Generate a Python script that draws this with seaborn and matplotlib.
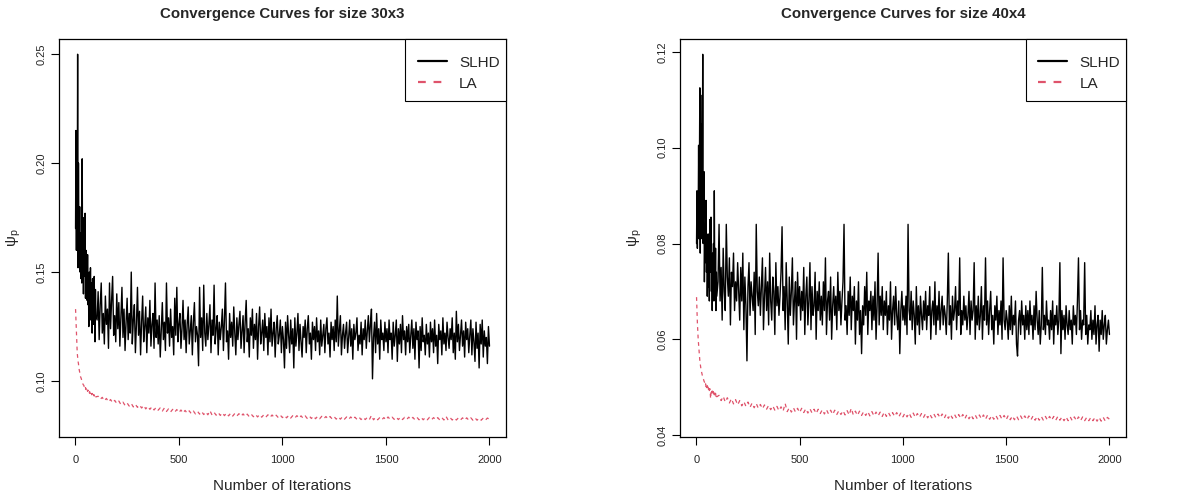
import numpy as np
import pandas as pd
import matplotlib
matplotlib.use('Agg')
import matplotlib.pyplot as plt
from matplotlib.patches import Rectangle
import seaborn as sns

slhd_iter = np.concatenate([np.arange(1, 100, 2), np.arange(105, 2001, 5)])
la_iter = np.concatenate([np.arange(1, 100, 2), np.arange(110, 2001, 10)])

# size 30x3
slhd_30x3 = [
    0.170, 0.215, 0.160, 0.210, 0.165, 0.250, 0.152, 0.200, 0.168, 0.155,
    0.180, 0.150, 0.168, 0.147, 0.158, 0.145, 0.202, 0.150, 0.175, 0.140,
    0.165, 0.155, 0.148, 0.177, 0.138, 0.160, 0.142, 0.150, 0.137, 0.158,
    0.135, 0.148, 0.125, 0.150, 0.140, 0.132, 0.152, 0.128, 0.145, 0.135,
    0.122, 0.147, 0.130, 0.140, 0.126, 0.148, 0.133, 0.118, 0.142, 0.130,
    .128, .141, .119, .135, .145, .122, .131, .117, .139, .126, .133, .115, .145, .124, .137, .148, .121, .130, .118, .140,
    .124, .136, .116, .129, .143, .120, .133, .114, .127, .138, .119, .131, .122, .150, .117, .128, .135, .113, .126, .143,
    .121, .132, .112, .127, .139, .118, .125, .134, .113, .129, .122, .137, .116, .126, .131, .115, .145, .120, .128, .117,
    .130, .111, .124, .136, .119, .127, .114, .145, .122, .129, .116, .133, .120, .125, .112, .138, .121, .143, .118, .126,
    .131, .115, .124, .137, .119, .128, .113, .126, .134, .117, .123, .130, .112, .127, .136, .118, .125, .121, .107, .143,
    .120, .129, .114, .144, .122, .116, .131, .119, .126, .135, .113, .128, .121, .144, .117, .124, .130, .112, .127, .119,
    .125, .133, .114, .128, .145, .118, .123, .110, .131, .120, .127, .116, .134, .122, .112, .129, .119, .126, .132, .115,
    .123, .130, .113, .127, .137, .118, .124, .111, .129, .121, .133, .115, .126, .119, .131, .110, .125, .134, .117, .122,
    .128, .114, .131, .120, .125, .112, .129, .118, .133, .116, .122, .127, .111, .124, .130, .117, .121, .128, .113, .125,
    .119, .106, .127, .115, .130, .121, .113, .128, .117, .124, .106, .129, .116, .122, .131, .114, .126, .118, .111, .125,
    .120, .128, .113, .124, .130, .117, .122, .110, .127, .119, .125, .114, .129, .118, .123, .112, .128, .116, .121, .126,
    .113, .124, .129, .117, .122, .111, .127, .119, .125, .114, .128, .118, .139, .116, .123, .130, .112, .121, .126, .115,
    .122, .127, .113, .120, .128, .116, .124, .110, .126, .119, .122, .129, .114, .121, .117, .127, .112, .124, .119, .128,
    .115, .123, .130, .118, .126, .133, .101, .120, .127, .113, .131, .117, .124, .110, .128, .119, .122, .114, .127, .118,
    .124, .113, .128, .119, .122, .110, .127, .116, .121, .128, .109, .124, .117, .126, .113, .130, .119, .123, .112, .125,
    .118, .126, .113, .121, .128, .115, .124, .110, .127, .119, .123, .106, .125, .114, .129, .118, .121, .112, .126, .117,
    .122, .111, .127, .118, .124, .113, .128, .116, .121, .108, .126, .119, .123, .112, .129, .117, .122, .114, .127, .120,
    .115, .124, .119, .129, .113, .122, .110, .132, .118, .126, .114, .121, .128, .116, .123, .111, .127, .119, .124, .113,
    .121, .128, .112, .124, .118, .109, .127, .115, .122, .106, .126, .117, .128, .111, .123, .116, .120, .108, .125, .116,
]
la_30x3 = [
    .1330, .1280, .1220, .1170, .1130, .1110, .1090, .1080, .1060, .1050,
    .1040, .1030, .1020, .1015, .1010, .1000, .0995, .0990, .0985, .0982,
    .0980, .0972, .0976, .0966, .0970, .0961, .0966, .0957, .0962, .0953,
    .0958, .0949, .0954, .0946, .0951, .0943, .0948, .0940, .0945, .0937,
    .0943, .0935, .0940, .0933, .0938, .0931, .0936, .0929, .0934, .0927,
    .0930, .0916, .0925, .0909, .0920, .0904, .0915, .0900, .0911, .0897,
    .0908, .0892, .0903, .0888, .0899, .0885, .0897, .0881, .0893, .0879,
    .0890, .0876, .0888, .0872, .0884, .0870, .0882, .0867, .0879, .0866,
    .0877, .0862, .0876, .0860, .0872, .0858, .0870, .0857, .0869, .0855,
    .0867, .0853, .0865, .0852, .0863, .0850, .0862, .0849, .0861, .0848,
    .0860, .0846, .0858, .0845, .0864, .0844, .0856, .0843, .0855, .0842,
    .0854, .0841, .0853, .0840, .0852, .0839, .0851, .0839, .0850, .0838,
    .0849, .0837, .0848, .0836, .0847, .0836, .0847, .0835, .0846, .0834,
    .0845, .0834, .0845, .0833, .0844, .0833, .0843, .0832, .0843, .0832,
    .0842, .0831, .0842, .0830, .0841, .0830, .0841, .0829, .0840, .0829,
    .0840, .0828, .0839, .0828, .0839, .0827, .0838, .0827, .0838, .0827,
    .0837, .0826, .0837, .0826, .0836, .0825, .0836, .0825, .0836, .0825,
    .0835, .0824, .0835, .0824, .0834, .0824, .0834, .0823, .0834, .0823,
    .0833, .0823, .0842, .0822, .0833, .0822, .0832, .0822, .0832, .0821,
    .0835, .0824, .0834, .0824, .0834, .0823, .0834, .0823, .0833, .0823,
    .0834, .0823, .0833, .0822, .0833, .0822, .0833, .0822, .0832, .0822,
    .0833, .0822, .0832, .0822, .0832, .0821, .0832, .0821, .0838, .0821,
    .0832, .0821, .0831, .0821, .0831, .0821, .0831, .0820, .0831, .0820,
    .0831, .0820, .0831, .0820, .0830, .0820, .0830, .0820, .0830, .0824,
]

# size 40x4
slhd_40x4 = [
    .0800, .0910, .0790, .0880, .0850, .1005, .0810, .0950, .1125, .0780,
    .1110, .0830, .1050, .0810, .0920, .1195, .0800, .0870, .0950, .0720,
    .0810, .0760, .0840, .0890, .0740, .0790, .0690, .0760, .0820, .0710,
    .0770, .0680, .0850, .0740, .0830, .0855, .0700, .0760, .0660, .0780,
    .0720, .0800, .0680, .0910, .0730, .0700, .0790, .0660, .0740, .0690,
    .072, .084, .068, .075, .064, .079, .070, .066, .084, .073, .069, .077, .063, .074, .071, .078, .066, .072, .068, .076,
    .070, .064, .075, .068, .078, .062, .073, .067, .0555, .071, .076, .065, .072, .069, .066, .074, .061, .084, .070, .067,
    .073, .065, .071, .077, .062, .069, .075, .066, .072, .063, .078, .068, .064, .073, .070, .061, .076, .067, .071, .065,
    .069, .074, .0835, .066, .071, .062, .076, .068, .059, .073, .065, .070, .077, .063, .068, .072, .060, .074, .067, .071,
    .064, .070, .066, .075, .061, .069, .073, .063, .068, .076, .062, .071, .065, .067, .074, .060, .070, .066, .072, .064,
    .069, .063, .072, .066, .077, .061, .068, .070, .064, .073, .060, .067, .071, .065, .069, .062, .074, .066, .070, .063,
    .068, .072, .084, .064, .067, .061, .070, .065, .073, .062, .069, .066, .071, .059, .068, .064, .072, .061, .066, .057,
    .067, .063, .071, .065, .074, .061, .068, .066, .070, .062, .069, .064, .072, .060, .067, .078, .063, .069, .065, .071,
    .062, .068, .065, .070, .061, .067, .064, .072, .060, .066, .069, .063, .071, .065, .062, .068, .057, .066, .070, .064,
    .067, .063, .069, .061, .084, .066, .064, .070, .062, .068, .065, .059, .071, .063, .067, .061, .069, .065, .062, .068,
    .064, .070, .062, .067, .065, .071, .060, .066, .068, .063, .072, .061, .067, .064, .070, .062, .066, .069, .063, .067,
    .065, .061, .068, .078, .063, .067, .060, .069, .064, .066, .071, .062, .068, .065, .077, .061, .066, .063, .069, .064,
    .067, .062, .065, .070, .061, .068, .064, .066, .076, .060, .067, .063, .069, .062, .065, .071, .060, .067, .064, .077,
    .063, .068, .061, .066, .070, .062, .065, .059, .067, .064, .069, .061, .066, .063, .068, .060, .077, .064, .062, .066,
    .064, .060, .067, .062, .069, .061, .065, .063, .068, .059, .0565, .064, .066, .061, .068, .063, .065, .060, .067, .062,
    .066, .061, .068, .063, .065, .060, .067, .062, .070, .064, .061, .066, .059, .063, .075, .062, .065, .061, .068, .063,
    .064, .060, .066, .062, .068, .059, .065, .063, .067, .061, .064, .076, .057, .066, .062, .065, .060, .067, .063, .061,
    .066, .062, .064, .059, .067, .063, .065, .061, .068, .077, .062, .066, .060, .064, .063, .076, .061, .065, .059, .063,
    .062, .066, .060, .064, .061, .067, .059, .063, .065, .0575, .064, .061, .066, .060, .063, .065, .059, .062, .064, .061,
]
la_40x4 = [
    .0688, .0660, .0635, .0615, .0600, .0588, .0575, .0562, .0555, .0548,
    .0542, .0536, .0532, .0528, .0525, .0521, .0518, .0516, .0513, .0511,
    .0509, .0504, .0507, .0501, .0505, .0499, .0503, .0497, .0501, .0495,
    .0499, .0493, .0497, .0491, .0476, .0490, .0494, .0488, .0492, .0486,
    .0491, .0485, .0489, .0484, .0488, .0482, .0487, .0481, .0485, .0480,
    .0483, .0472, .0481, .0469, .0478, .0467, .0476, .0465, .0474, .0463,
    .0472, .0461, .0470, .0460, .0469, .0458, .0467, .0457, .0466, .0456,
    .0464, .0455, .0463, .0454, .0462, .0453, .0461, .0452, .0460, .0451,
    .0459, .0450, .0466, .0449, .0457, .0448, .0457, .0448, .0456, .0447,
    .0456, .0447, .0455, .0446, .0455, .0446, .0454, .0445, .0454, .0445,
    .0453, .0444, .0453, .0444, .0452, .0443, .0452, .0443, .0451, .0443,
    .0451, .0442, .0451, .0442, .0456, .0442, .0450, .0441, .0450, .0441,
    .0449, .0441, .0449, .0440, .0449, .0440, .0448, .0440, .0448, .0439,
    .0448, .0439, .0447, .0439, .0447, .0439, .0447, .0438, .0446, .0438,
    .0446, .0438, .0446, .0437, .0446, .0437, .0445, .0437, .0445, .0437,
    .0445, .0436, .0444, .0436, .0444, .0436, .0444, .0436, .0444, .0435,
    .0444, .0435, .0443, .0435, .0443, .0435, .0443, .0435, .0443, .0434,
    .0443, .0434, .0442, .0434, .0442, .0434, .0442, .0434, .0442, .0433,
    .0442, .0433, .0441, .0433, .0441, .0433, .0441, .0433, .0441, .0432,
    .0441, .0432, .0440, .0432, .0440, .0432, .0440, .0432, .0440, .0432,
    .0440, .0432, .0440, .0431, .0439, .0431, .0439, .0431, .0439, .0431,
    .0439, .0431, .0439, .0431, .0439, .0431, .0438, .0430, .0438, .0430,
    .0438, .0430, .0438, .0430, .0438, .0430, .0438, .0430, .0437, .0430,
    .0437, .0430, .0437, .0429, .0437, .0429, .0437, .0429, .0437, .0433,
]

sizes = ["30x3", "40x4"]
panels = [
    (slhd_30x3, la_30x3, (0.0743, 0.257), [0.10, 0.15, 0.20, 0.25]),
    (slhd_40x4, la_40x4, (0.0396, 0.1227), [0.04, 0.06, 0.08, 0.10, 0.12]),
]

sns.set_style("white")
plt.rcParams['font.family'] = ['Liberation Sans', 'DejaVu Sans']
plt.rcParams['mathtext.fontset'] = 'custom'
plt.rcParams['mathtext.rm'] = 'Liberation Sans'

fig = plt.figure(figsize=(12.04, 4.98), dpi=100)
axes = [fig.add_axes([0.049, 0.1225, 0.3713, 0.7992]),
        fig.add_axes([0.5648, 0.1225, 0.3704, 0.7992])]

red = "#DF536B"
for ax, size, (slhd, la, ylim, yticks) in zip(axes, sizes, panels):
    df_s = pd.DataFrame({"iter": slhd_iter, "value": slhd})
    df_l = pd.DataFrame({"iter": la_iter, "value": la})
    sns.lineplot(data=df_s, x="iter", y="value", ax=ax, color="black",
                 linewidth=1.0, estimator=None, label="SLHD")
    sns.lineplot(data=df_l, x="iter", y="value", ax=ax, color=red,
                 linewidth=0.9, estimator=None, label="LA")
    ax.lines[1].set_dashes([3, 3])

    ax.set_xlim(-79, 2080)
    ax.set_ylim(*ylim)
    ax.set_xticks([0, 500, 1000, 1500, 2000])
    ax.set_yticks(yticks)
    ax.set_yticklabels([f"{t:.2f}" for t in yticks], rotation=90, va="center")
    ax.tick_params(axis="both", which="both", direction="out", length=6,
                   width=0.8, color="black", labelsize=8, left=True, bottom=True)
    ax.tick_params(axis="x", pad=7)
    ax.tick_params(axis="y", pad=3)
    for sp in ax.spines.values():
        sp.set_visible(True)
        sp.set_color("black")
        sp.set_linewidth(0.9)

    ax.set_title(f"Convergence Curves for size {size}", fontsize=10.8,
                 fontweight="bold", pad=15)
    ax.set_xlabel("Number of Iterations", fontsize=11)
    ax.set_ylabel("ψ$_\\mathrm{p}$", fontsize=11)
    ax.xaxis.set_label_coords(0.5, -0.105)
    ax.yaxis.set_label_coords(-0.08, 0.5)

    # R-style legend box flush with the top-right corner
    ax.add_patch(Rectangle((0.775, 0.844), 0.225, 0.156, transform=ax.transAxes,
                           facecolor="white", edgecolor="black", linewidth=0.8,
                           zorder=4, clip_on=False))
    leg = ax.legend(loc="upper left", bbox_to_anchor=(0.803, 0.958),
                    borderaxespad=0, borderpad=0, frameon=False, fontsize=11,
                    handlelength=1.9, handletextpad=0.8, labelspacing=0.45)
    leg.set_zorder(5)
    for ln in leg.get_lines():
        ln.set_linewidth(1.6)
    leg.get_lines()[1].set_dashes([3.5, 3.5])

fig.savefig("out.png", dpi=100)
